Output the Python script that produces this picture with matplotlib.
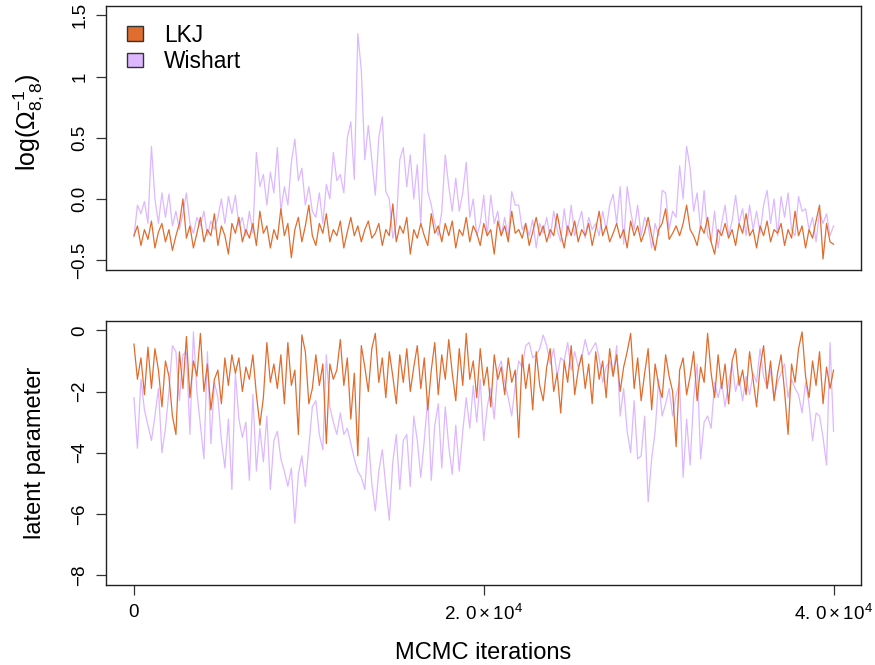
import numpy as np
import matplotlib
matplotlib.use('Agg')
import matplotlib.pyplot as plt
from matplotlib.patches import Patch

plt.rcParams['font.family'] = ['Liberation Sans', 'DejaVu Sans']
plt.rcParams['mathtext.fontset'] = 'custom'
plt.rcParams['mathtext.rm'] = 'Liberation Sans'
plt.rcParams['mathtext.it'] = 'Liberation Sans'

# MCMC samples, every 200 iterations
iterations = np.arange(201) * 200

wishart_top = [
    -0.31, -0.05, -0.12, -0.02, -0.2, 0.43, 0.0, -0.2, 0.05, -0.15,
    0.04, -0.22, -0.1, -0.25, -0.12, 0.05, -0.2, -0.28, -0.15, -0.22,
    -0.1, -0.3, -0.18, -0.25, -0.15, 0.0, -0.2, 0.02, -0.12, 0.03,
    -0.22, -0.15, -0.3, -0.1, -0.28, 0.38, 0.1, 0.2, -0.05, 0.22,
    0.05, 0.42, -0.1, 0.1, -0.05, 0.3, 0.49, 0.15, 0.25, -0.05,
    0.1, -0.1, -0.15, 0.05, -0.2, 0.12, 0.0, 0.38, 0.15, 0.2,
    0.05, 0.5, 0.63, 0.16, 1.35, 1.05, 0.32, 0.6, 0.32, 0.03,
    0.5, 0.67, 0.06, 0.0, -0.32, -0.2, 0.32, 0.42, 0.1, 0.36,
    0.0, 0.28, -0.2, 0.53, 0.06, -0.05, -0.2, -0.3, -0.1, 0.36,
    0.1, -0.1, 0.17, -0.1, 0.05, 0.3, -0.15, 0.0, -0.3, -0.2,
    0.03, -0.3, 0.03, -0.2, -0.1, -0.3, -0.15, -0.32, 0.06, -0.05,
    -0.05, -0.25, -0.2, -0.3, -0.17, -0.4, -0.2, -0.28, -0.15, -0.32,
    -0.1, -0.25, -0.35, -0.08, -0.3, -0.05, -0.3, -0.2, -0.1, -0.32,
    -0.15, -0.25, -0.2, -0.3, -0.1, -0.25, -0.05, 0.04, -0.2, 0.1,
    -0.37, 0.1, -0.1, -0.25, -0.05, -0.3, -0.15, -0.22, -0.4, -0.2,
    -0.3, 0.07, 0.05, -0.25, -0.1, -0.15, 0.27, 0.0, 0.43, 0.25,
    -0.1, 0.05, -0.25, 0.07, -0.3, -0.35, -0.1, -0.4, -0.2, -0.05,
    -0.3, -0.18, 0.03, -0.2, -0.08, -0.3, -0.05, -0.25, -0.1, -0.28,
    -0.05, 0.07, -0.2, 0.0, -0.3, 0.02, -0.15, 0.05, -0.25, -0.3,
    0.02, -0.1, -0.08, -0.25, -0.15, -0.35, -0.1, -0.2, -0.12, -0.3,
    -0.22]

lkj_top = [
    -0.3, -0.22, -0.38, -0.25, -0.33, -0.18, -0.4, -0.27, -0.2, -0.35,
    -0.25, -0.42, -0.3, -0.2, 0.0, -0.32, -0.22, -0.4, -0.28, -0.15,
    -0.35, -0.25, -0.3, -0.12, -0.38, -0.22, -0.3, -0.45, -0.2, -0.28,
    -0.15, -0.35, -0.25, -0.32, -0.2, -0.38, -0.1, -0.28, -0.22, -0.4,
    -0.25, -0.33, -0.08, -0.3, -0.2, -0.48, -0.25, -0.15, -0.35, -0.22,
    -0.05, -0.3, -0.38, -0.2, -0.28, -0.12, -0.35, -0.25, -0.3, -0.18,
    -0.4, -0.27, -0.15, -0.3, -0.22, -0.35, -0.25, -0.18, -0.32, -0.28,
    -0.2, -0.38, -0.25, -0.3, -0.04, -0.35, -0.22, -0.28, -0.15, -0.45,
    -0.25, -0.32, -0.2, -0.3, -0.38, -0.12, -0.28, -0.22, -0.35, -0.2,
    -0.3, -0.18, -0.4, -0.25, -0.3, -0.15, -0.35, -0.22, -0.28, -0.38,
    -0.2, -0.3, -0.25, -0.45, -0.18, -0.3, -0.22, -0.35, -0.1, -0.28,
    -0.25, -0.32, -0.2, -0.38, -0.27, -0.15, -0.3, -0.22, -0.35, -0.25,
    -0.3, -0.12, -0.28, -0.4, -0.22, -0.3, -0.18, -0.35, -0.25, -0.3,
    -0.2, -0.38, -0.25, -0.1, -0.3, -0.22, -0.35, -0.28, -0.2, -0.32,
    -0.25, -0.4, -0.18, -0.3, -0.22, -0.35, -0.27, -0.15, -0.3, -0.42,
    -0.25, -0.2, -0.08, -0.33, -0.28, -0.22, -0.3, -0.2, -0.05, -0.25,
    -0.3, -0.38, -0.22, -0.28, -0.15, -0.35, -0.45, -0.25, -0.3, -0.2,
    -0.32, -0.25, -0.38, -0.2, -0.28, -0.12, -0.3, -0.25, -0.4, -0.22,
    -0.3, -0.18, -0.35, -0.25, -0.28, -0.2, -0.38, -0.25, -0.32, -0.1,
    -0.3, -0.22, -0.4, -0.25, -0.32, -0.18, -0.05, -0.49, -0.2, -0.35,
    -0.37]

wishart_latent = [
    -2.2, -3.85, -1.6, -2.6, -3.1, -3.6, -2.8, -1.9, -4.0, -3.2,
    -2.0, -0.5, -0.7, -2.3, -0.8, -0.7, -3.4, -0.05, -2.0, -3.1,
    -4.2, -0.7, -3.7, -1.7, -2.2, -3.6, -4.5, -2.9, -5.2, -1.4,
    -2.9, -3.5, -3.0, -4.9, -2.1, -4.6, -3.2, -4.3, -2.8, -5.2,
    -3.6, -3.3, -4.2, -4.6, -5.1, -4.5, -6.3, -4.7, -4.1, -5.1,
    -3.8, -2.5, -2.3, -3.4, -3.9, -0.8, -2.5, -3.0, -3.4, -2.7,
    -3.4, -3.2, -3.7, -4.2, -4.6, -4.8, -5.2, -3.5, -5.0, -5.9,
    -4.6, -3.9, -5.1, -6.2, -4.3, -3.4, -5.2, -3.6, -3.4, -5.1,
    -2.8, -3.6, -4.8, -3.6, -2.2, -4.9, -3.1, -2.4, -4.5, -2.5,
    -3.8, -4.7, -3.1, -4.6, -3.3, -2.2, -3.2, -1.8, -3.0, -1.6,
    -3.6, -2.5, -1.9, -2.9, -1.3, -1.0, -1.7, -2.2, -2.8, -1.8,
    -1.0, -1.2, -0.5, -0.4, -0.9, -0.8, -0.6, -0.15, -0.5, -1.1,
    -0.6, -1.5, -0.9, -1.0, -0.4, -1.3, -0.7, -1.2, -0.9, -0.3,
    -0.8, -0.6, -0.4, -0.9, -1.7, -1.2, -1.0, -1.5, -0.5, -2.8,
    -1.9, -3.3, -4.0, -2.3, -4.2, -4.1, -2.8, -5.6, -4.2, -3.3,
    -1.6, -2.8, -2.4, -1.9, -2.8, -2.1, -1.7, -4.8, -2.9, -4.4,
    -2.2, -1.1, -4.2, -3.0, -2.8, -3.2, -1.7, -2.2, -1.7, -2.5,
    -1.7, -1.1, -2.0, -1.5, -2.3, -1.5, -2.1, -1.4, -1.7, -0.6,
    -1.5, -1.9, -1.3, -2.2, -1.7, -1.4, -1.1, -2.2, -1.6, -1.9,
    -2.1, -2.7, -1.7, -2.4, -3.6, -2.7, -2.8, -3.5, -4.4, -0.4,
    -3.3]

lkj_latent = [
    -0.45, -1.6, -0.9, -2.1, -0.55, -1.9, -0.6, -1.3, -2.5, -1.0,
    -1.5, -2.8, -3.4, -0.7, -1.9, -0.2, -2.2, -1.0, -1.5, -0.1,
    -2.0, -1.1, -2.6, -1.6, -1.3, -2.4, -0.9, -1.8, -0.8, -1.4,
    -0.9, -2.0, -1.2, -1.6, -0.8, -2.1, -3.1, -2.2, -0.4, -1.7,
    -1.1, -1.9, -0.8, -2.4, -0.4, -1.8, -1.3, -3.4, -0.15, -0.7,
    -2.4, -1.9, -0.8, -1.8, -1.1, -3.7, -1.1, -1.6, -1.3, -0.3,
    -1.8, -0.9, -2.9, -1.4, -4.1, -0.5, -1.2, -2.0, -0.6, -0.1,
    -1.7, -0.9, -2.2, -0.7, -1.5, -2.4, -0.8, -1.7, -0.6, -2.0,
    -1.2, -0.5, -1.9, -0.9, -2.6, -1.3, -0.4, -2.1, -0.8, -1.6,
    -0.3, -1.4, -2.3, -0.6, -1.8, -0.1, -1.6, -1.0, -2.2, -0.6,
    -1.8, -1.2, -2.5, -0.8, -1.6, -1.2, -2.1, -0.9, -1.7, -1.3,
    -3.5, -0.8, -1.9, -1.1, -2.6, -0.7, -1.8, -2.3, -1.2, -0.6,
    -2.0, -1.4, -2.7, -1.0, -1.7, -0.5, -2.1, -1.3, -0.8, -1.9,
    -1.1, -2.4, -0.7, -1.6, -1.0, -2.2, -0.6, -1.5, -0.8, -2.0,
    -1.2, -0.7, -0.1, -1.9, -0.9, -2.3, -1.4, -0.6, -2.6, -1.1,
    -1.8, -2.2, -0.8, -1.5, -2.0, -3.8, -1.3, -0.9, -2.1, -1.5,
    -0.7, -2.3, -1.2, -1.7, -0.1, -1.4, -2.2, -0.8, -1.9, -1.1,
    -2.4, -1.0, -0.6, -1.8, -1.3, -2.1, -0.7, -1.6, -2.5, -1.2,
    -0.5, -1.9, -1.0, -2.3, -1.4, -0.8, -2.0, -3.4, -1.1, -1.7,
    -0.6, -0.05, -1.5, -2.2, -1.0, -1.8, -0.7, -2.4, -1.2, -1.9,
    -1.3]

top_ticks = [-0.5, 0.0, 0.5, 1.0, 1.5]
top_ticklabels = ['\u22120.5', '0.0', '0.5', '1', '1.5']
bottom_ticks = [-8, -6, -4, -2, 0]
bottom_ticklabels = ['\u22128', '\u22126', '\u22124', '\u22122', '0']
x_ticks = [0, 20000, 40000]
x_ticklabels = ['0', r'$2.\,0\times10^{4}$', r'$4.\,0\times10^{4}$']

lkj_col = '#E06C2E'
wis_col = '#DDB8FF'

fig = plt.figure(figsize=(8.75, 6.65), dpi=100)
ax1 = fig.add_axes([0.1211, 0.594, 0.8629, 0.3977])
ax2 = fig.add_axes([0.1211, 0.1203, 0.8629, 0.3977])

for ax in (ax1, ax2):
    ax.set_xlim(-1600, 41570)
    for s in ax.spines.values():
        s.set_linewidth(1.0)
        s.set_color('#222222')
    ax.tick_params(axis='both', direction='out', length=7.2, width=0.9,
                   labelsize=13.5, pad=5.5, color='#333333')

ax1.plot(iterations, wishart_top, color=wis_col, lw=0.9)
ax1.plot(iterations, lkj_top, color=lkj_col, lw=0.9)
ax1.set_ylim(-0.58, 1.58)
ax1.set_xticks([])
ax1.set_yticks(top_ticks)
ax1.set_yticklabels(top_ticklabels, rotation=90, va='center')
ax1.set_ylabel(r'log($\Omega^{-1}_{8,8}$)', fontsize=18)
ax1.yaxis.set_label_coords(-0.08, 0.56)

handles = [Patch(facecolor=lkj_col, edgecolor='#333333', label='LKJ'),
           Patch(facecolor=wis_col, edgecolor='#333333', label='Wishart')]
ax1.legend(handles=handles, loc='upper left', bbox_to_anchor=(0.007, 0.992),
           frameon=False, fontsize=16.4,
           handlelength=0.7, handleheight=0.6, handletextpad=0.9,
           borderaxespad=0.3, labelspacing=0.15)

ax2.plot(iterations, wishart_latent, color=wis_col, lw=0.9)
ax2.plot(iterations, lkj_latent, color=lkj_col, lw=0.9)
ax2.set_ylim(-8.32, 0.32)
ax2.set_yticks(bottom_ticks)
ax2.set_yticklabels(bottom_ticklabels, rotation=90, va='center')
ax2.set_xticks(x_ticks)
ax2.set_xticklabels(x_ticklabels)
ax2.tick_params(axis='x', pad=6.5)
ax2.set_ylabel('latent parameter', fontsize=17)
ax2.yaxis.set_label_coords(-0.08, 0.5)
ax2.set_xlabel('MCMC iterations', fontsize=17, labelpad=13)

fig.savefig('out.png', dpi=100)
